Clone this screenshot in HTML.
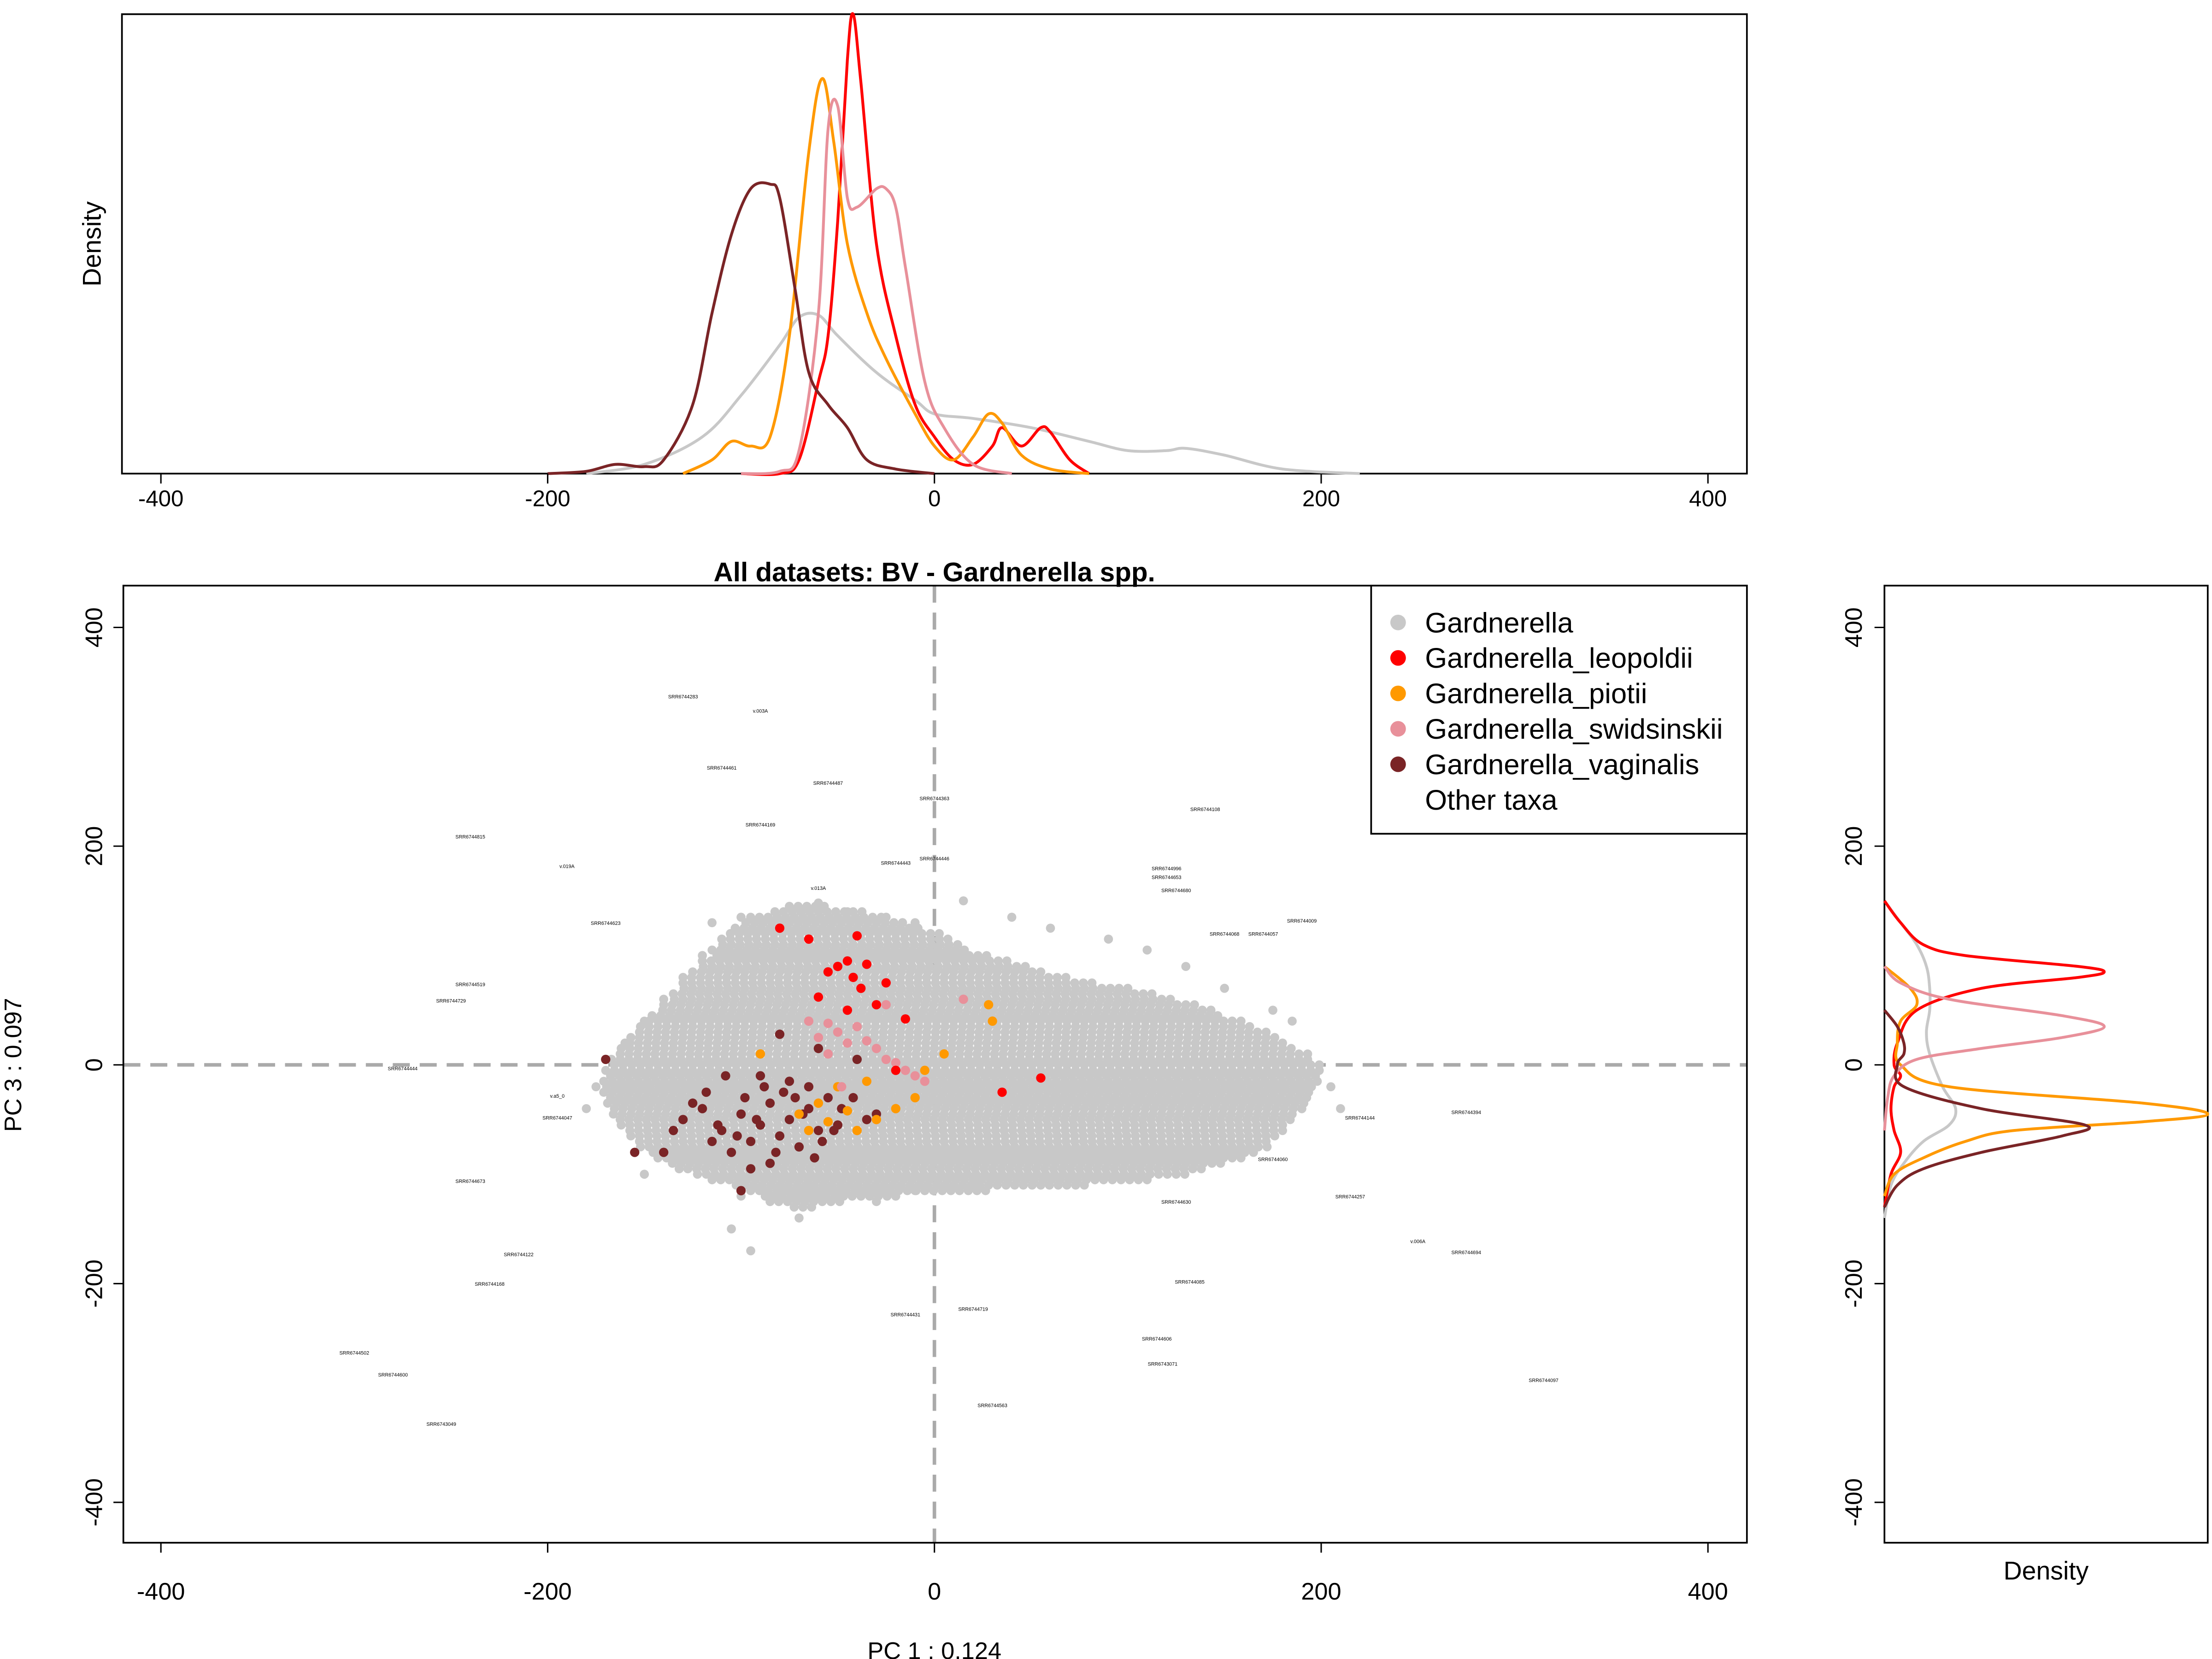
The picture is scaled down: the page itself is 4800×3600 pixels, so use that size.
<!DOCTYPE html>
<html><head><meta charset="utf-8">
<style>
html,body{margin:0;padding:0;background:#fff;}
svg{display:block;font-family:"Liberation Sans",Arial,sans-serif;}
</style></head>
<body>
<svg id="chart" width="4800" height="3600" viewBox="0 0 1560 1170" xmlns="http://www.w3.org/2000/svg">
<rect x="0" y="0" width="1560" height="1170" fill="#fff"/>
<g id="top"></g><g id="main"></g><g id="right"></g><g id="axes"></g>
</svg>
<script>
// ---------- data ----------
const seriesNames = ["Gardnerella","Gardnerella_leopoldii","Gardnerella_piotii","Gardnerella_swidsinskii","Gardnerella_vaginalis"];
const seriesColors = ["#c8c8c8","#ff0000","#ff9900","#e8909a","#7a2426"];
const xTicks = [-400,-200,0,200,400];
const yTicks = [-400,-200,0,200,400];
// gray cloud: rows [y, xmin, xmax] (PC units)
const cloudRows = [[145,-75,-55],[140,-85,-35],[135,-95,-25],[130,-100,-15],[125,-103,-5],[120,-108,5],[115,-110,8],[110,-112,12],[105,-115,18],[100,-115,30],[95,-120,40],[90,-122,50],[85,-125,58],[80,-128,70],[75,-130,85],[70,-132,100],[65,-135,115],[60,-137,125],[55,-140,135],[50,-143,145],[45,-146,150],[40,-150,160],[35,-152,165],[30,-155,172],[25,-157,178],[20,-160,183],[15,-162,188],[10,-165,193],[5,-167,197],[0,-168,200],[-5,-170,200],[-10,-170,200],[-15,-171,199],[-20,-172,198],[-25,-171,196],[-30,-170,195],[-35,-169,193],[-40,-168,190],[-45,-166,188],[-50,-165,185],[-55,-162,182],[-60,-160,180],[-65,-157,177],[-70,-155,175],[-75,-152,172],[-80,-148,168],[-85,-143,160],[-90,-138,150],[-95,-132,140],[-100,-125,130],[-105,-115,110],[-110,-105,80],[-115,-95,30],[-120,-90,-20],[-125,-85,-45],[-130,-75,-60]];
const outX = [-150,-140,-160,-130,-175,-180,-120,-45,-25,-10,15,40,60,90,110,130,150,175,185,205,210,-100,-70,-30,-10,20,-115,-100,-60,-105,-95,-150];
const outY = [40,60,20,80,-20,-40,100,140,135,130,150,135,125,115,105,90,70,50,40,-20,-40,-120,-140,-125,-115,-110,130,135,148,-150,-170,-100];
const leoX = [-80,-65,-40,-55,-45,-50,-35,-42,-38,-25,-30,-45,-60,-20,35,55,-15];
const leoY = [125,115,118,85,95,90,92,80,70,75,55,50,62,-5,-25,-12,42];
const pioX = [-90,-60,-45,-55,-40,-30,-20,-10,-5,5,-65,-70,-50,-35,28,30];
const pioY = [10,-35,-42,-52,-60,-50,-40,-30,-5,10,-60,-45,-20,-15,55,40];
const swiX = [-65,-55,-60,-50,-45,-40,-35,-30,-25,-20,-15,-10,-5,-48,-55,15,-25];
const swiY = [40,38,25,30,20,35,22,15,5,2,-5,-10,-15,-20,10,60,55];
const vagX = [-130,-120,-110,-100,-95,-90,-85,-80,-75,-70,-65,-60,-55,-50,-115,-105,-98,-88,-78,-68,-58,-48,-125,-112,-102,-92,-82,-72,-62,-52,-42,-35,-30,-140,-135,-108,-118,-95,-85,-75,-65,-170,-155,-60,-40,-80,-100,-90];
const vagY = [-50,-40,-60,-45,-70,-55,-35,-65,-50,-75,-40,-60,-30,-55,-70,-80,-30,-20,-25,-45,-70,-40,-35,-55,-65,-50,-80,-30,-85,-60,-30,-50,-45,-80,-60,-10,-25,-95,-90,-15,-20,5,-80,15,5,28,-115,-10];
// densities (relative)
const topDensX = {
 g:[-180,-150,-120,-100,-80,-70,-60,-50,-30,-10,0,20,50,80,100,120,130,150,180,220],
 r:[-100,-80,-70,-60,-55,-50,-45,-42,-38,-30,-20,-10,0,10,20,30,35,45,55,60,70,80],
 o:[-130,-115,-105,-95,-85,-75,-65,-58,-52,-45,-35,-25,-10,0,10,20,28,35,45,60,80],
 p:[-100,-80,-70,-60,-55,-50,-45,-40,-30,-25,-20,-15,-5,5,20,40],
 v:[-200,-180,-165,-150,-140,-125,-115,-105,-95,-85,-80,-72,-65,-55,-45,-35,-20,0]};
const topDensY = {
 g:[0,0.02,0.08,0.17,0.28,0.34,0.345,0.3,0.22,0.16,0.13,0.12,0.1,0.07,0.05,0.05,0.055,0.04,0.01,0],
 r:[0,0,0.03,0.2,0.3,0.55,0.9,1.0,0.85,0.5,0.3,0.15,0.08,0.03,0.02,0.06,0.1,0.06,0.1,0.09,0.03,0],
 o:[0,0.03,0.07,0.06,0.08,0.3,0.7,0.86,0.72,0.5,0.35,0.25,0.13,0.06,0.03,0.08,0.13,0.11,0.04,0.01,0],
 p:[0,0.005,0.05,0.35,0.75,0.8,0.6,0.58,0.62,0.62,0.58,0.45,0.2,0.1,0.02,0],
 v:[0,0.005,0.02,0.015,0.03,0.15,0.35,0.52,0.62,0.63,0.6,0.4,0.22,0.15,0.1,0.03,0.01,0]};
const rightDensY = {
 g:[150,130,110,90,70,50,30,10,-20,-40,-55,-70,-90,-110,-140],
 r:[150,130,110,100,90,85,80,70,50,20,0,-10,-20,-40,-60,-80,-100,-130],
 o:[90,70,55,40,20,0,-20,-35,-45,-52,-60,-70,-85,-100,-120],
 p:[90,75,60,45,35,25,15,5,-10,-30,-60],
 v:[50,35,20,10,0,-20,-40,-55,-65,-80,-95,-110,-130]};
const rightDensX = {
 g:[0,0.05,0.1,0.13,0.14,0.14,0.13,0.14,0.18,0.22,0.2,0.12,0.06,0.02,0],
 r:[0,0.05,0.12,0.25,0.6,0.68,0.6,0.3,0.1,0.04,0.03,0.05,0.03,0.02,0.03,0.05,0.02,0],
 o:[0,0.08,0.1,0.05,0.04,0.05,0.2,0.8,1.0,0.8,0.4,0.25,0.12,0.03,0],
 p:[0,0.05,0.2,0.55,0.68,0.55,0.3,0.1,0.03,0.01,0],
 v:[0,0.04,0.06,0.06,0.04,0.06,0.3,0.62,0.55,0.3,0.12,0.04,0]};
const sampleLabels = ["SRR6744283","v.003A","SRR6744461","SRR6744487","SRR6744363","SRR6744169","SRR6744815","v.019A","SRR6744443","SRR6744446","SRR6744108","SRR6744996","v.013A","SRR6744653","SRR6744680","SRR6744068","SRR6744057","SRR6744009","SRR6744623","SRR6744519","SRR6744729","SRR6744444","v.a5_0","SRR6744047","SRR6744673","SRR6744122","SRR6744168","SRR6744502","SRR6744600","SRR6743049","SRR6744431","SRR6744719","SRR6744563","SRR6744606","SRR6743071","SRR6744085","SRR6744144","SRR6744394","v.006A","SRR6744694","SRR6744097","SRR6744257","SRR6744060","SRR6744630"];
const sampleX = [-130,-90,-110,-55,0,-90,-240,-190,-20,0,140,120,-60,120,125,150,170,190,-170,-240,-250,-275,-195,-195,-240,-215,-230,-300,-280,-255,-15,20,30,115,118,132,220,275,250,275,315,215,175,125];
const sampleY = [335,322,270,256,242,218,207,180,183,187,232,178,160,170,158,118,118,130,128,72,57,-5,-30,-50,-108,-175,-202,-265,-285,-330,-230,-225,-313,-252,-275,-200,-50,-45,-163,-173,-290,-122,-88,-127];

// ---------- scales ----------
const SX = v => 659 + v*1.3638;
const SY = v => 751 - v*0.7713;
const TY = d => 334 - d*324;
const RX = d => 1329 + d*228;
const NS = "http://www.w3.org/2000/svg";
function mk(parent, tag, attrs, text){
  const e = document.createElementNS(NS, tag);
  for (const k in attrs) e.setAttribute(k, attrs[k]);
  if (text !== undefined) e.textContent = text;
  parent.appendChild(e); return e;
}
function smooth(pts){
  let d = 'M'+pts[0][0].toFixed(1)+','+pts[0][1].toFixed(1);
  for(let i=0;i<pts.length-1;i++){
    const p0=pts[Math.max(i-1,0)],p1=pts[i],p2=pts[i+1],p3=pts[Math.min(i+2,pts.length-1)];
    const c1=[p1[0]+(p2[0]-p0[0])/6,p1[1]+(p2[1]-p0[1])/6];
    const c2=[p2[0]-(p3[0]-p1[0])/6,p2[1]-(p3[1]-p1[1])/6];
    d+=' C'+c1[0].toFixed(1)+','+c1[1].toFixed(1)+' '+c2[0].toFixed(1)+','+c2[1].toFixed(1)+' '+p2[0].toFixed(1)+','+p2[1].toFixed(1);
  }
  return d;
}
const gTop = document.getElementById('top'), gMain = document.getElementById('main'),
      gRight = document.getElementById('right');
const keys = ['g','r','o','p','v'];
const keyColor = {g:seriesColors[0],r:seriesColors[1],o:seriesColors[2],p:seriesColors[3],v:seriesColors[4]};

// top density
mk(gTop,'rect',{x:86,y:10,width:1146,height:324,fill:'none',stroke:'#000','stroke-width':1.2});
keys.forEach(k=>{
  const pts = topDensX[k].map((x,i)=>[SX(x),TY(topDensY[k][i])]);
  const pl = mk(gTop,'path',{d:smooth(pts),fill:'none',stroke:keyColor[k],'stroke-width':2,'stroke-linejoin':'round'});
  
  
});
xTicks.forEach(t=>{
  mk(gTop,'line',{x1:SX(t),x2:SX(t),y1:334,y2:341,stroke:'#000'});
  const tx = mk(gTop,'text',{x:SX(t),y:357,'font-size':16,'text-anchor':'middle'},String(t));
  
  
});
mk(gTop,'text',{x:71,y:172,'font-size':18,'text-anchor':'middle',transform:'rotate(-90 71 172)',},'Density');

// main scatter
const defs = mk(document.getElementById('chart'),'defs',{});
const cp = mk(defs,'clipPath',{id:'clipMain'});
mk(cp,'rect',{x:87,y:413,width:1145,height:675});
const mc = mk(gMain,'g',{'clip-path':'url(#clipMain)'});
mk(mc,'line',{x1:659,x2:659,y1:413,y2:1088,stroke:'#aaa','stroke-width':2.5,'stroke-dasharray':'12,7'});
mk(mc,'line',{x1:87,x2:1232,y1:751,y2:751,stroke:'#aaa','stroke-width':2.5,'stroke-dasharray':'12,7'});
cloudRows.forEach((r,ri)=>{
  const off = (ri%2)*2.5;
  for(let x=r[1]+off; x<=r[2]; x+=4.5){
    const c = mk(mc,'circle',{cx:SX(x).toFixed(1),cy:SY(r[0]).toFixed(1),r:3.2,fill:seriesColors[0]});
    
    
  }
});
outX.forEach((x,i)=>{
  const c = mk(mc,'circle',{cx:SX(x),cy:SY(outY[i]),r:3.2,fill:seriesColors[0]});
  
  
});
sampleLabels.forEach((s,i)=>{
  const t = mk(mc,'text',{x:SX(sampleX[i]),y:SY(sampleY[i]),'font-size':3.5,'text-anchor':'middle'},s);
  
  
});
[[vagX,vagY,4,'vaginalis'],[pioX,pioY,2,'piotii'],[swiX,swiY,3,'swidsinskii'],[leoX,leoY,1,'leopoldii']].forEach(s=>{
  s[0].forEach((x,i)=>{
    const c = mk(mc,'circle',{cx:SX(x),cy:SY(s[1][i]),r:3.3,fill:seriesColors[s[2]]});
    
    
  });
});
mk(gMain,'rect',{x:87,y:413,width:1145,height:675,fill:'none',stroke:'#000','stroke-width':1.2});
mk(gMain,'text',{x:659,y:410,'font-size':19,'font-weight':'bold','text-anchor':'middle',},'All datasets: BV - Gardnerella spp.');
xTicks.forEach(t=>{
  mk(gMain,'line',{x1:SX(t),x2:SX(t),y1:1088,y2:1095,stroke:'#000'});
  const tx = mk(gMain,'text',{x:SX(t),y:1128,'font-size':17,'text-anchor':'middle'},String(t));
  
  
});
yTicks.forEach(t=>{
  mk(gMain,'line',{x1:80,x2:87,y1:SY(t),y2:SY(t),stroke:'#000'});
  const tx = mk(gMain,'text',{x:72,y:SY(t),'font-size':17,'text-anchor':'middle',transform:`rotate(-90 72 ${SY(t)})`},String(t));
  
  
});
mk(gMain,'text',{x:659,y:1170,'font-size':17,'text-anchor':'middle',},'PC 1 :  0.124');
mk(gMain,'text',{x:15,y:751,'font-size':17,'text-anchor':'middle',transform:'rotate(-90 15 751)',},'PC 3 :  0.097');

// legend
const lg = mk(gMain,'g',{});
mk(lg,'rect',{x:967,y:413,width:265,height:175,fill:'#fff',stroke:'#000','stroke-width':1.2});
seriesNames.concat(['Other taxa']).forEach((n,i)=>{
  const y = 439 + i*25;
  const e = mk(lg,'g',{});
  
  
  if(i<5) mk(e,'circle',{cx:986,cy:y,r:5.5,fill:seriesColors[i]});
  mk(e,'text',{x:1005,y:y+7,'font-size':20},n);
});

// right density
mk(gRight,'rect',{x:1329,y:413,width:228,height:675,fill:'none',stroke:'#000','stroke-width':1.2});
keys.forEach(k=>{
  const pts = rightDensY[k].map((y,i)=>[RX(rightDensX[k][i]),SY(y)]);
  const pl = mk(gRight,'path',{d:smooth(pts),fill:'none',stroke:keyColor[k],'stroke-width':2,'stroke-linejoin':'round'});
  
  
});
yTicks.forEach(t=>{
  mk(gRight,'line',{x1:1322,x2:1329,y1:SY(t),y2:SY(t),stroke:'#000'});
  const tx = mk(gRight,'text',{x:1313,y:SY(t),'font-size':17,'text-anchor':'middle',transform:`rotate(-90 1313 ${SY(t)})`},String(t));
  
  
});
mk(gRight,'text',{x:1443,y:1114,'font-size':18,'text-anchor':'middle',},'Density');
</script>
</body></html>
